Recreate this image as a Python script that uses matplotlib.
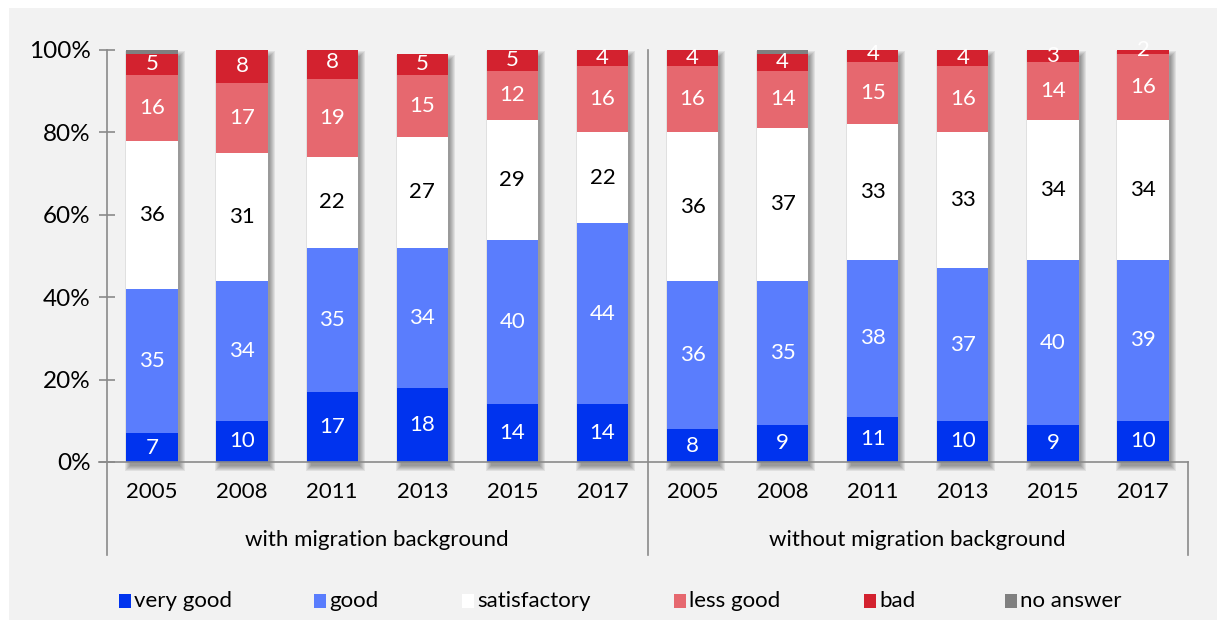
import numpy as np
import matplotlib.pyplot as plt
from matplotlib.patches import Rectangle

plt.rcParams['font.family'] = ['Lato', 'DejaVu Sans']

years = ['2005', '2008', '2011', '2013', '2015', '2017']
groups = ['with migration background', 'without migration background']
categories = ['very good', 'good', 'satisfactory', 'less good', 'bad', 'no answer']
colors = ['#0033ee', '#5a7dfd', '#ffffff', '#e6686f', '#d3222f', '#808080']
label_colors = ['white', 'white', 'black', 'white', 'white', None]

# shares in % per year, first the group with migration background, then without
very_good    = [7, 10, 17, 18, 14, 14, 8, 9, 11, 10, 9, 10]
good         = [35, 34, 35, 34, 40, 44, 36, 35, 38, 37, 40, 39]
satisfactory = [36, 31, 22, 27, 29, 22, 36, 37, 33, 33, 34, 34]
less_good    = [16, 17, 19, 15, 12, 16, 16, 14, 15, 16, 14, 16]
bad          = [5, 8, 8, 5, 5, 4, 4, 4, 4, 4, 3, 2]
no_answer    = [1, 0, 0, 0, 0, 0, 0, 1, 0, 1, 0, 0]

series = [very_good, good, satisfactory, less_good, bad, no_answer]

fig = plt.figure(figsize=(12.17, 6.20), dpi=100, facecolor='white')
fig.patches.append(Rectangle((9 / 1217, 0), 1, 1 - 8 / 620, transform=fig.transFigure,
                             facecolor='#f2f2f2', edgecolor='none', zorder=-10))

ax = fig.add_axes([107 / 1217, 158 / 620, 1081 / 1217, 412 / 620])
ax.set_facecolor('none')

n = len(very_good)
x = np.arange(n)
width = 0.57
px_x = 1 / 90.0        # one pixel in x data units
px_y = 100 / 412.0     # one pixel in y data units

# soft drop shadow behind every bar
totals = np.minimum(np.sum(series, axis=0), 100)
for grow in range(6):
    for xi, tot in zip(x, totals):
        ax.add_patch(Rectangle((xi - width / 2 + (4 - grow) * px_x, -(4 + grow) * px_y),
                               width + 2 * grow * px_x - 2 * px_x, tot + 2 * grow * px_y - 2 * px_y,
                               facecolor='black', alpha=0.07, edgecolor='none',
                               zorder=1, clip_on=False))

bottom = np.zeros(n)
for vals, col, lcol in zip(series, colors, label_colors):
    vals = np.array(vals, dtype=float)
    ax.bar(x, vals, width, bottom=bottom, color=col, edgecolor='none', zorder=2)
    if lcol is not None:
        for xi, b, v in zip(x, bottom, vals):
            ax.text(xi, b + v / 2, f'{v:.0f}', ha='center', va='center',
                    fontsize=16, color=lcol, zorder=3)
    bottom += vals

ax.set_xlim(-0.5, n - 0.5)
ax.set_ylim(0, 100)

axis_col = '#8a8a8a'
for s in ['top', 'right']:
    ax.spines[s].set_visible(False)
ax.spines['left'].set_color(axis_col)
ax.spines['bottom'].set_color(axis_col)
ax.spines['left'].set_linewidth(1.2)
ax.spines['bottom'].set_linewidth(1.2)

ax.set_yticks([0, 20, 40, 60, 80, 100])
ax.set_yticklabels(['0%', '20%', '40%', '60%', '80%', '100%'], fontsize=17.5)
ax.tick_params(axis='y', direction='inout', length=11.5, width=1.2, color=axis_col, pad=6)
ax.set_xticks([])

# group separators below the axis
y_low = -22.6
ax.plot([-0.5, -0.5], [0, y_low], color=axis_col, lw=1.2, clip_on=False)
ax.plot([5.5, 5.5], [100, y_low], color=axis_col, lw=1.2, clip_on=False)
ax.plot([11.5, 11.5], [0, y_low], color=axis_col, lw=1.2, clip_on=False)
ax.plot([-0.5 - 8 * px_x, -0.5], [0, 0], color=axis_col, lw=1.2, clip_on=False)

for xi in x:
    ax.text(xi, -7.4, years[xi % 6], ha='center', va='center', fontsize=16)
ax.text(2.5, -19.0, groups[0], ha='center', va='center', fontsize=16)
ax.text(8.5, -19.0, groups[1], ha='center', va='center', fontsize=16)

# legend row
leg_x = [119, 314, 462, 674, 864, 1005]
for lx, cat, col in zip(leg_x, categories, colors):
    fig.patches.append(Rectangle((lx / 1217, (620 - 608) / 620), 12 / 1217, 14 / 620,
                                 transform=fig.transFigure, facecolor=col, edgecolor='none'))
    fig.text((lx + 15) / 1217, (620 - 601) / 620, cat, ha='left', va='center', fontsize=16)

fig.savefig('out.png', dpi=100, facecolor=fig.get_facecolor())
